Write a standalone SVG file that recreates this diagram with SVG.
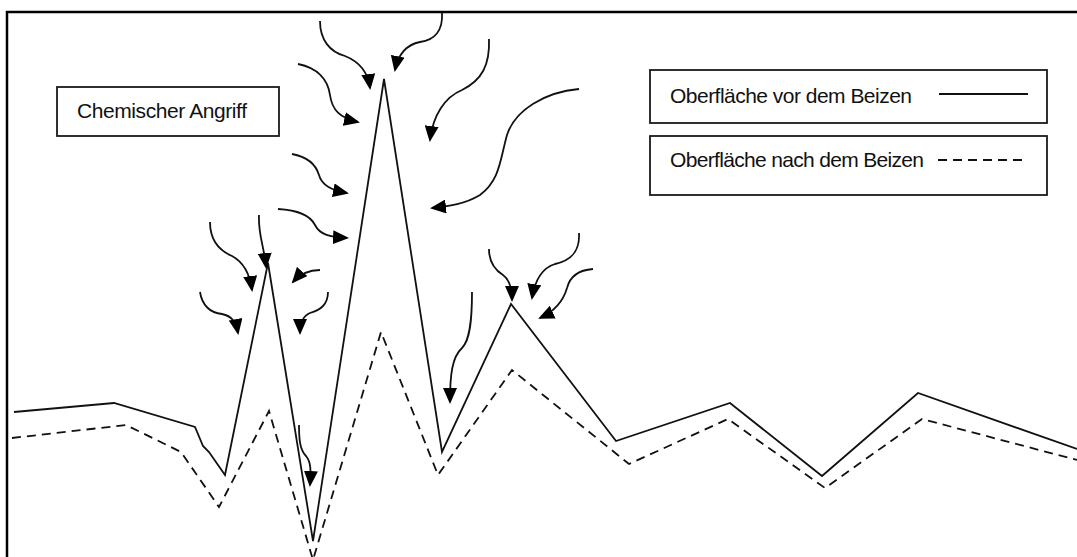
<svg xmlns="http://www.w3.org/2000/svg" width="1077" height="557" viewBox="0 0 1077 557">
  <style>
    .frame { fill: none; stroke: #000; stroke-width: 2.5; }
    .box { fill: #fff; stroke: #1a1a1a; stroke-width: 1.8; }
    .label { font-family: "Liberation Sans", Arial, sans-serif; font-size: 21px; fill: #111; }
    .solid { fill: none; stroke: #111; stroke-width: 1.8; stroke-linejoin: miter; }
    .dashed { fill: none; stroke: #111; stroke-width: 1.8; stroke-dasharray: 9 6; }
    .attack { fill: none; stroke: #111; stroke-width: 1.8; marker-end: url(#head); }
  </style>
  <defs>
    <marker id="head" markerUnits="userSpaceOnUse" markerWidth="16" markerHeight="14" refX="14" refY="7" orient="auto" viewBox="0 0 16 14">
      <path d="M0,0 L16,7 L0,14 Z" fill="#000"/>
    </marker>
  </defs>
  <rect width="1077" height="557" fill="#fff"/>

  <!-- outer frame (open at right and bottom) -->
  <path class="frame" d="M7,557 L7,12 L1077,12"/>

  <!-- label box -->
  <g id="label-angriff">
    <rect class="box" x="57" y="87" width="222" height="49"/>
    <text class="label" x="77" y="118" textLength="170">Chemischer Angriff</text>
  </g>

  <!-- legend -->
  <g id="legend-before">
    <rect class="box" x="650" y="70" width="397" height="53"/>
    <text class="label" x="670" y="103" textLength="242">Oberfläche vor dem Beizen</text>
    <line class="solid" x1="939" y1="94" x2="1028" y2="94"/>
  </g>
  <g id="legend-after">
    <rect class="box" x="650" y="136" width="397" height="59"/>
    <text class="label" x="670" y="167" textLength="254">Oberfläche nach dem Beizen</text>
    <line class="dashed" x1="938" y1="160" x2="1026" y2="160" stroke-dasharray="7 5.5"/>
  </g>

  <!-- surface profiles -->
  <g id="profile-before">
    <polyline class="solid" points="14,412 114,403 195,427 203,446 209,452 225,475 268,263 313,541 384,79 442,452 511,304 616,441 730,403 822,476 918,393 1077,449"/>
  </g>
  <g id="profile-after">
    <polyline class="dashed" points="12,438 126,425 181,452 219,507 269,411 313,560 381,332 438,475 512,370 629,464 728,419 825,488 922,419 1077,460"/>
  </g>

  <!-- attack arrows -->
  <g id="connectors">
    <path class="attack" d="M320,21 C320,40 330,52 345,56 C360,62 368,72 370,88"/>
    <path class="attack" d="M442,13 C443,30 435,40 420,42 C405,45 398,55 395,70"/>
    <path class="attack" d="M298,64 C318,68 328,80 330,95 C332,110 340,118 358,122"/>
    <path class="attack" d="M489,39 C490,65 482,80 462,90 C445,97 433,115 430,140"/>
    <path class="attack" d="M292,154 C308,157 316,165 319,175 C322,186 332,190 347,193"/>
    <path class="attack" d="M579,89 C545,92 515,110 507,135 C500,160 500,180 480,195 C465,204 450,206 432,208"/>
    <path class="attack" d="M278,209 C296,210 310,215 315,225 C320,235 330,237 347,238"/>
    <path class="attack" d="M210,222 C210,240 218,250 232,256 C245,263 250,275 252,290"/>
    <path class="attack" d="M259,215 C258,235 264,245 266,267"/>
    <path class="attack" d="M200,292 C202,305 210,313 222,314 C232,316 236,322 238,333"/>
    <path class="attack" d="M320,270 C310,270 300,274 293,282"/>
    <path class="attack" d="M328,292 C328,305 320,310 310,313 C303,316 300,323 300,333"/>
    <path class="attack" d="M299,425 C299,440 300,450 306,456 C311,462 311,470 310,485"/>
    <path class="attack" d="M472,292 C472,320 470,340 462,348 C452,357 450,375 450,402"/>
    <path class="attack" d="M489,249 C489,262 495,270 503,275 C510,280 512,290 512,300"/>
    <path class="attack" d="M579,233 C580,250 573,260 555,264 C542,268 535,280 532,298"/>
    <path class="attack" d="M593,269 C580,270 570,276 567,288 C563,302 553,312 540,318"/>
  </g>
</svg>
